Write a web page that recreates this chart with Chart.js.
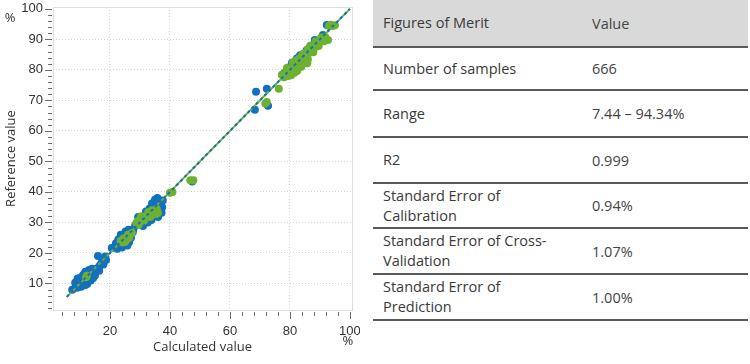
<!DOCTYPE html>
<html>
<head>
<meta charset="utf-8">
<script src="https://cdn.jsdelivr.net/npm/chart.js@4.4.1/dist/chart.umd.min.js"></script>
<style>
  body { margin: 0; width: 750px; height: 364px; overflow: hidden; background: #fff; position: relative; }
  #plot { position: absolute; left: 0; top: 0; width: 360px; height: 364px; }
  #merit { position: absolute; left: 373px; top: 0; width: 375px; font-family: "Open Sans", sans-serif; font-size: 14.5px; color: #3a3a3a; }
  .row { display: flex; align-items: center; border-bottom: 2px solid #595959; box-sizing: border-box; }
  .row.head { background: #d9d9d9; }
  .cell-name { width: 209px; padding-left: 10px; box-sizing: border-box; line-height: 20px; }
  .cell-val { padding-left: 10px; color: #444; }
</style>
</head>
<body>
<div id="plot"><canvas id="chart"></canvas></div>
<div id="merit"></div>
<script>
// Kalibrasyon verileri - mavi ve yeşil seriler (hesaplanan / referans)
const blueX = [7.4, 8.6, 9.0, 9.4, 9.8, 10.2, 10.6, 10.0, 11.0, 11.4, 11.8, 12.2, 12.6, 13.0, 13.4, 13.8, 14.2, 14.8, 15.4, 11.2, 9.6, 12.0, 10.4, 13.2,
  8.4, 9.2, 10.8, 11.6, 12.4, 13.6, 14.4, 15.0, 9.0, 11.8, 13.0, 14.0, 15.8, 16.4,
  16.0, 16.6, 17.2, 18.0, 18.7, 18.4, 17.8,
  20.6, 21.6, 22.4, 23.0, 23.4, 23.8, 24.2, 24.6, 25.0, 25.4, 26.0, 26.4, 24.0, 25.8, 26.8, 27.6,
  22.8, 23.6, 25.2, 27.0, 27.8, 26.2, 22.0,
  29.0, 29.8, 30.6, 31.2, 31.8, 32.4, 33.0, 33.6, 34.2, 34.8, 35.2, 35.6, 36.0, 36.4, 36.8, 37.2, 36.2, 35.0, 37.4, 30.2, 31.0, 34.4, 36.6,
  28.4, 29.4, 32.0, 33.2, 34.0, 35.8, 37.6, 36.0, 33.8, 32.6,
  47.4, 68.7, 72.3, 68.3, 72.7,
  79.5, 80.7, 82.4, 84.0, 85.6, 88.3, 89.2, 90.4, 92.3, 86.8, 78.2, 83.4, 91.0];
const blueY = [7.9, 9.2, 10.1, 10.8, 9.6, 10.4, 11.2, 11.8, 9.8, 10.6, 11.6, 10.9, 12.0, 11.4, 12.6, 13.4, 12.8, 13.9, 14.6, 12.9, 9.0, 13.0, 8.9, 13.8,
  10.2, 11.6, 12.4, 9.4, 9.8, 11.0, 11.8, 12.6, 8.6, 13.8, 14.4, 14.8, 15.0, 14.2,
  19.0, 15.9, 16.8, 17.4, 17.7, 18.8, 16.2,
  21.6, 22.0, 21.4, 22.6, 24.0, 25.0, 23.0, 25.6, 24.4, 26.2, 25.0, 23.6, 21.8, 22.4, 26.6, 26.8,
  24.4, 26.0, 27.0, 25.0, 27.8, 27.6, 23.2,
  29.6, 30.6, 29.8, 31.0, 30.2, 32.0, 31.0, 33.2, 32.4, 35.0, 36.4, 34.0, 35.6, 37.0, 36.0, 33.2, 32.6, 37.4, 35.0, 31.6, 28.8, 34.0, 33.8,
  29.0, 31.8, 33.6, 34.6, 36.2, 38.0, 37.2, 31.8, 30.8, 30.0,
  43.4, 72.8, 73.8, 66.9, 68.2,
  80.8, 82.3, 83.8, 82.6, 86.4, 89.8, 88.4, 89.8, 94.7, 87.8, 79.0, 84.8, 91.4];

const greenX = [12.3, 12.0,
  24.2, 25.0, 25.6, 26.4, 27.3, 24.6, 23.6, 26.0,
  28.8, 29.4, 30.0, 30.6, 31.2, 31.8, 32.4, 33.0, 33.6, 34.2, 34.8, 35.4, 36.0, 29.6, 32.8, 31.4, 30.4, 34.0, 35.6, 33.4,
  40.0, 40.8, 46.8, 47.8,
  76.3, 72.3, 71.8,
  77.3, 78.0, 78.8, 79.4, 80.0, 80.8, 81.4, 82.0, 82.6, 83.2, 83.8, 84.4, 85.0, 85.4, 86.0, 86.6, 87.2, 87.8, 88.4, 89.0, 89.6, 90.2, 90.8, 91.4, 92.2, 92.7, 86.0, 84.0, 81.0, 83.0,
  79.0, 81.8, 84.6, 87.0, 88.6, 90.4, 91.8, 85.8, 82.4, 80.4,
  93.0, 93.6, 94.3, 95.0];
const greenY = [12.5, 12.0,
  23.4, 23.6, 24.4, 25.0, 26.5, 24.8, 24.0, 26.0,
  29.8, 30.4, 31.0, 30.6, 31.4, 31.8, 32.2, 32.8, 33.0, 32.6, 33.4, 32.8, 33.2, 29.2, 33.4, 30.6, 32.0, 34.0, 34.4, 31.8,
  39.7, 40.0, 43.8, 43.8,
  73.8, 69.5, 69.0,
  78.4, 77.6, 79.2, 78.0, 79.6, 80.2, 79.0, 81.4, 80.4, 82.2, 81.0, 83.0, 82.4, 84.2, 83.4, 85.6, 86.6, 85.8, 87.4, 88.8, 87.8, 89.2, 90.0, 89.4, 89.8, 89.8, 86.8, 84.6, 82.4, 83.6,
  80.6, 83.0, 85.4, 88.0, 89.4, 90.6, 90.8, 82.2, 79.6, 78.2,
  94.4, 94.8, 94.4, 94.6];

// Regresyon çizgisi (y = x)
const fitX = [5.6, 100];
const fitY = [5.6, 100];

// Eksen etiketleri
const xTickLabels = [20, 40, 60, 80, 100];
const yTickLabels = [10, 20, 30, 40, 50, 60, 70, 80, 90, 100];
const xMinorStep = 4;
const yMinorStep = 2;

// Tablo verileri
const meritNames = ['Figures of Merit', 'Number of samples', 'Range', 'R2',
  'Standard Error of<br>Calibration', 'Standard Error of Cross-<br>Validation', 'Standard Error of<br>Prediction'];
const meritValues = ['Value', '666', '7.44 \u2013 94.34%', '0.999', '0.94%', '1.07%', '1.00%'];

function toPoints(xs, ys) {
  return xs.map((x, i) => ({ x: x, y: ys[i] }));
}

function stepTicks(step, max) {
  const out = [];
  for (let v = step; v <= max; v += step) out.push(v);
  return out;
}

// Çerçeve, kısa/uzun tik çizgileri ve % işaretleri
const framePlugin = {
  id: 'frame',
  beforeDatasetsDraw(chart) {
    const a = chart.chartArea;
    const ctx = chart.ctx;
    ctx.save();
    ctx.strokeStyle = '#dedede';
    ctx.lineWidth = 1;
    ctx.strokeRect(Math.round(a.left) + 0.5, Math.round(a.top) + 0.5, Math.round(a.right - a.left), Math.round(a.bottom - a.top));
    ctx.restore();
  },
  afterDraw(chart) {
    const ctx = chart.ctx;
    const a = chart.chartArea;
    const xs = chart.scales.x, ys = chart.scales.y;
    ctx.save();
    ctx.strokeStyle = '#6e6e6e';
    ctx.lineWidth = 1;
    ctx.beginPath();
    stepTicks(yMinorStep, 100).forEach(v => {
      const py = Math.round(ys.getPixelForValue(v)) + 0.5;
      const major = yTickLabels.includes(v);
      ctx.moveTo(a.left - (major ? 8 : 5), py);
      ctx.lineTo(a.left - 1, py);
    });
    stepTicks(xMinorStep, 100).forEach(v => {
      const px = Math.round(xs.getPixelForValue(v)) + 0.5;
      const major = xTickLabels.includes(v);
      ctx.moveTo(px, a.bottom + 2);
      ctx.lineTo(px, a.bottom + (major ? 9 : 6));
    });
    ctx.stroke();

    ctx.fillStyle = '#333';
    ctx.font = '13px "Open Sans", sans-serif';
    ctx.textAlign = 'center';
    ctx.textBaseline = 'middle';
    ctx.fillText('%', 10, 18);
    ctx.fillText('%', xs.getPixelForValue(100) - 2, 341);
    ctx.restore();
  }
};

const tickFont = { family: '"Liberation Sans", Arial, sans-serif', size: 13 };
const titleFont = { family: '"Open Sans", sans-serif', size: 13 };

new Chart(document.getElementById('chart'), {
  type: 'scatter',
  data: {
    datasets: [
      {
        type: 'line',
        data: toPoints(fitX, fitY),
        borderColor: '#1370bd',
        borderWidth: 2,
        borderDash: [3, 3],
        pointRadius: 0,
        order: 0
      },
      {
        type: 'line',
        data: toPoints(fitX, fitY),
        borderColor: '#6db130',
        borderWidth: 2,
        pointRadius: 0,
        order: 1
      },
      {
        data: toPoints(greenX, greenY),
        backgroundColor: '#6db130',
        borderWidth: 0,
        pointRadius: 4,
        order: 2
      },
      {
        data: toPoints(blueX, blueY),
        backgroundColor: '#1370bd',
        borderWidth: 0,
        pointRadius: 4,
        order: 3
      }
    ]
  },
  options: {
    responsive: true,
    maintainAspectRatio: false,
    animation: false,
    layout: { autoPadding: false, padding: { top: 7, right: 8, left: 0, bottom: 0 } },
    plugins: {
      legend: { display: false },
      tooltip: { enabled: false }
    },
    scales: {
      x: {
        type: 'linear',
        min: 1,
        max: 100.7,
        afterBuildTicks: s => { s.ticks = stepTicks(xMinorStep, 100).map(v => ({ value: v })); },
        afterFit: s => { s.height = 54; s.paddingLeft = 0; s.paddingRight = 0; },
        ticks: {
          autoSkip: false,
          maxRotation: 0,
          padding: 14,
          color: '#333',
          font: tickFont,
          callback: v => xTickLabels.includes(v) ? String(v) : ''
        },
        grid: {
          drawTicks: false,
          color: c => (c.tick && xTickLabels.includes(c.tick.value) && c.tick.value < 100) ? '#d6d6d6' : 'rgba(0,0,0,0)',
          lineWidth: 1
        },
        border: { display: false, dash: [1, 2] },
        title: {
          display: true,
          text: 'Calculated value',
          color: '#333',
          font: titleFont,
          padding: { top: 0, bottom: 9 }
        }
      },
      y: {
        type: 'linear',
        min: 1.3,
        max: 100.6,
        afterBuildTicks: s => { s.ticks = stepTicks(yMinorStep, 100).map(v => ({ value: v })); },
        afterFit: s => { s.width = 53; s.paddingTop = 0; s.paddingBottom = 0; },
        ticks: {
          autoSkip: false,
          padding: 10,
          color: '#333',
          font: tickFont,
          callback: v => yTickLabels.includes(v) ? String(v) : ''
        },
        grid: {
          drawTicks: false,
          color: c => (c.tick && yTickLabels.includes(c.tick.value) && c.tick.value < 100) ? '#d6d6d6' : 'rgba(0,0,0,0)',
          lineWidth: 1
        },
        border: { display: false, dash: [1, 2] },
        title: {
          display: true,
          text: 'Reference value',
          color: '#333',
          font: titleFont,
          padding: { top: 3, bottom: 0 }
        }
      }
    }
  },
  plugins: [framePlugin]
});

// Tablo (Figures of Merit)
const rowHeights = [48, 43, 47, 46, 45, 46, 46];
const merit = document.getElementById('merit');
meritNames.forEach((name, i) => {
  const row = document.createElement('div');
  row.className = 'row' + (i === 0 ? ' head' : '');
  row.style.height = rowHeights[i] + 'px';
  row.innerHTML = '<div class="cell-name">' + name + '</div><div class="cell-val">' + meritValues[i] + '</div>';
  merit.appendChild(row);
});
</script>
</body>
</html>
